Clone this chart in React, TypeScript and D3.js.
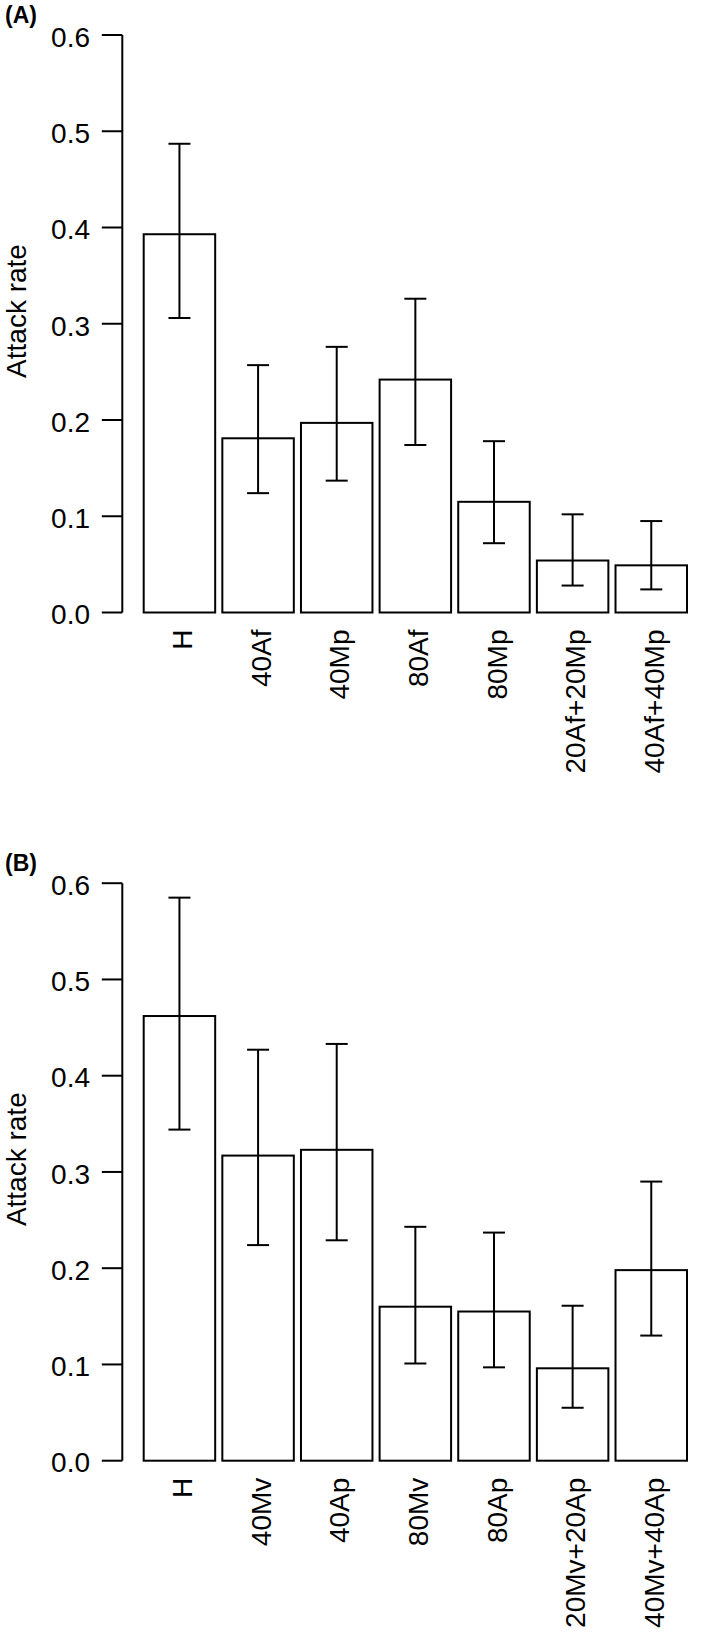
import React from "react";
import * as d3 from "d3";

const catsA = ["H", "40Af", "40Mp", "80Af", "80Mp", "20Af+20Mp", "40Af+40Mp"];
const meanA = [0.393, 0.181, 0.197, 0.242, 0.115, 0.054, 0.049];
const lowA = [0.306, 0.124, 0.137, 0.174, 0.072, 0.028, 0.024];
const highA = [0.487, 0.257, 0.276, 0.326, 0.178, 0.102, 0.095];

const catsB = ["H", "40Mv", "40Ap", "80Mv", "80Ap", "20Mv+20Ap", "40Mv+40Ap"];
const meanB = [0.462, 0.317, 0.323, 0.16, 0.155, 0.096, 0.198];
const lowB = [0.344, 0.224, 0.229, 0.101, 0.097, 0.055, 0.13];
const highB = [0.585, 0.427, 0.433, 0.243, 0.237, 0.161, 0.29];

const yTicks = [0, 0.1, 0.2, 0.3, 0.4, 0.5, 0.6];
const yLabel = "Attack rate";

const FONT = "'Liberation Sans', Arial, Helvetica, sans-serif";

type PanelProps = {
  tag: string;
  cats: string[];
  mean: number[];
  low: number[];
  high: number[];
  top: number;
};

function Panel({ tag, cats, mean, low, high, top }: PanelProps) {
  const y0 = top + 577.5;
  const y = d3.scaleLinear().domain([0, 0.6]).range([y0, top]);
  const x = d3
    .scaleBand<string>()
    .domain(cats)
    .range([143.7, 687])
    .paddingInner(0.1 / 1.1)
    .paddingOuter(0);
  const axisX = 122.3;
  const tickLen = 20.5;
  const cap = 11;
  const fmt = d3.format(".1f");
  return (
    <g>
      <text x={5} y={top - 12} fontFamily={FONT} fontWeight="bold" fontSize={23}>
        {tag}
      </text>
      <text
        transform={`translate(26, ${top + 276}) rotate(-90)`}
        textAnchor="middle"
        fontFamily={FONT}
        fontSize={28}
      >
        {yLabel}
      </text>
      <line x1={axisX} x2={axisX} y1={y(0)} y2={y(0.6)} stroke="#000" strokeWidth={2} />
      {yTicks.map((t) => (
        <g key={t}>
          <line x1={axisX - tickLen} x2={axisX} y1={y(t)} y2={y(t)} stroke="#000" strokeWidth={2} />
          <text
            x={90}
            y={y(t)}
            dy="0.42em"
            textAnchor="end"
            fontFamily={FONT}
            fontSize={28}
          >
            {fmt(t)}
          </text>
        </g>
      ))}
      {cats.map((c, i) => {
        const bx = x(c)!;
        const cx = bx + x.bandwidth() / 2;
        return (
          <g key={c}>
            <rect
              x={bx}
              y={y(mean[i])}
              width={x.bandwidth()}
              height={y(0) - y(mean[i])}
              fill="#fff"
              stroke="#000"
              strokeWidth={2}
            />
            <line x1={cx} x2={cx} y1={y(low[i])} y2={y(high[i])} stroke="#000" strokeWidth={2} />
            <line x1={cx - cap} x2={cx + cap} y1={y(low[i])} y2={y(low[i])} stroke="#000" strokeWidth={2} />
            <line x1={cx - cap} x2={cx + cap} y1={y(high[i])} y2={y(high[i])} stroke="#000" strokeWidth={2} />
            <text
              transform={`translate(${cx}, ${y0 + 17}) rotate(-90)`}
              dy="0.45em"
              textAnchor="end"
              fontFamily={FONT}
              fontSize={28}
            >
              {c}
            </text>
          </g>
        );
      })}
    </g>
  );
}

export default function App() {
  return (
    <div style={{ position: "absolute", left: 0, top: 0, background: "#fff" }}>
      <svg width={709} height={1633} style={{ display: "block", background: "#fff" }}>
        <rect x={0} y={0} width={709} height={1633} fill="#fff" />
        <Panel tag="(A)" cats={catsA} mean={meanA} low={lowA} high={highA} top={35} />
        <Panel tag="(B)" cats={catsB} mean={meanB} low={lowB} high={highB} top={883.2} />
      </svg>
    </div>
  );
}
